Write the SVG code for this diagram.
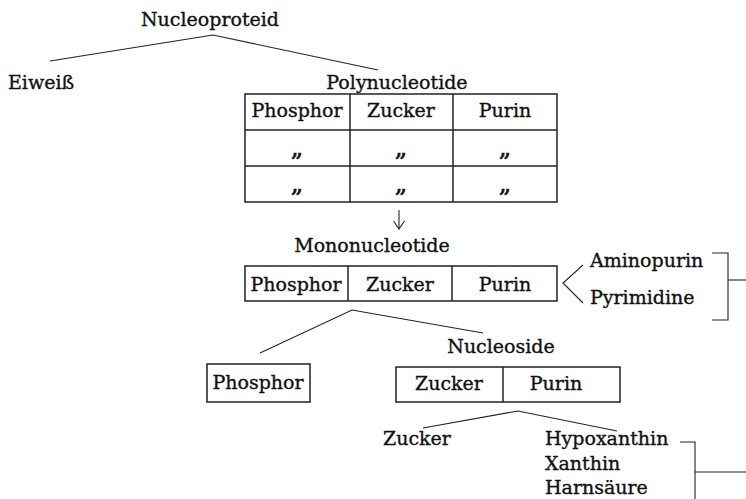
<svg xmlns="http://www.w3.org/2000/svg" width="746" height="499" viewBox="0 0 746 499">
<defs>
<style>
text{font-family:"DejaVu Serif","Liberation Serif",serif;font-size:19px;fill:#111;stroke:#111;stroke-width:0.35}
.c{text-anchor:middle}
.d{font-size:24px;stroke-width:0.6}
.box{fill:none;stroke:#222;stroke-width:1.5}
.ln{fill:none;stroke:#222;stroke-width:1.1}
</style>
</defs>
<rect width="746" height="499" fill="#fff"/>
<g id="connectors">
<polyline class="ln" points="50,61 213,35 378,70"/>
<line class="ln" x1="399" y1="210" x2="399" y2="229"/>
<polyline class="ln" points="393.5,221 399,229 404.5,221"/>
<polyline class="ln" points="583,265 563,283 583,303"/>
<polyline class="ln" points="712,253 728,253 728,320 712,320"/>
<line class="ln" x1="728" y1="280" x2="746" y2="280"/>
<polyline class="ln" points="260,353 352,310 483,333"/>
<polyline class="ln" points="423,428 518,411 617,431"/>
<polyline class="ln" points="680,442 695,442 695,499"/>
<line class="ln" x1="695" y1="472" x2="746" y2="472"/>
</g>
<g id="nucleoproteid"><text class="c" x="210" y="26">Nucleoproteid</text></g>
<g id="eiweiss"><text x="8" y="89">Eiweiß</text></g>
<g id="polynucleotide">
<text class="c" x="397" y="89">Polynucleotide</text>
<rect class="box" x="245" y="94" width="312" height="108"/>
<line class="box" x1="245" y1="130" x2="557" y2="130"/>
<line class="box" x1="245" y1="166" x2="557" y2="166"/>
<line class="box" x1="350" y1="94" x2="350" y2="202"/>
<line class="box" x1="453" y1="94" x2="453" y2="202"/>
<text class="c" x="297" y="117">Phosphor</text>
<text class="c" x="401" y="117">Zucker</text>
<text class="c" x="505" y="117">Purin</text>
<text class="c d" x="297" y="156">„</text>
<text class="c d" x="401" y="156">„</text>
<text class="c d" x="505" y="156">„</text>
<text class="c d" x="297" y="192">„</text>
<text class="c d" x="401" y="192">„</text>
<text class="c d" x="505" y="192">„</text>
</g>
<g id="mononucleotide">
<text class="c" x="372" y="252">Mononucleotide</text>
<rect class="box" x="245" y="266" width="312" height="35"/>
<line class="box" x1="348" y1="266" x2="348" y2="301"/>
<line class="box" x1="452" y1="266" x2="452" y2="301"/>
<text class="c" x="296" y="291">Phosphor</text>
<text class="c" x="400" y="291">Zucker</text>
<text class="c" x="505" y="291">Purin</text>
</g>
<g id="aminopurin"><text x="590" y="267">Aminopurin</text></g>
<g id="pyrimidine"><text x="590" y="304">Pyrimidine</text></g>
<g id="phosphor">
<rect class="box" x="207" y="364" width="103" height="38"/>
<text class="c" x="258" y="389">Phosphor</text>
</g>
<g id="nucleoside">
<text class="c" x="501" y="353">Nucleoside</text>
<rect class="box" x="396" y="367" width="224" height="35"/>
<line class="box" x1="503" y1="367" x2="503" y2="402"/>
<text class="c" x="449" y="390">Zucker</text>
<text class="c" x="556" y="390">Purin</text>
</g>
<g id="zucker"><text x="383" y="445">Zucker</text></g>
<g id="purinbasen">
<text x="545" y="445">Hypoxanthin</text>
<text x="545" y="470">Xanthin</text>
<text x="545" y="494">Harnsäure</text>
</g>
</svg>
